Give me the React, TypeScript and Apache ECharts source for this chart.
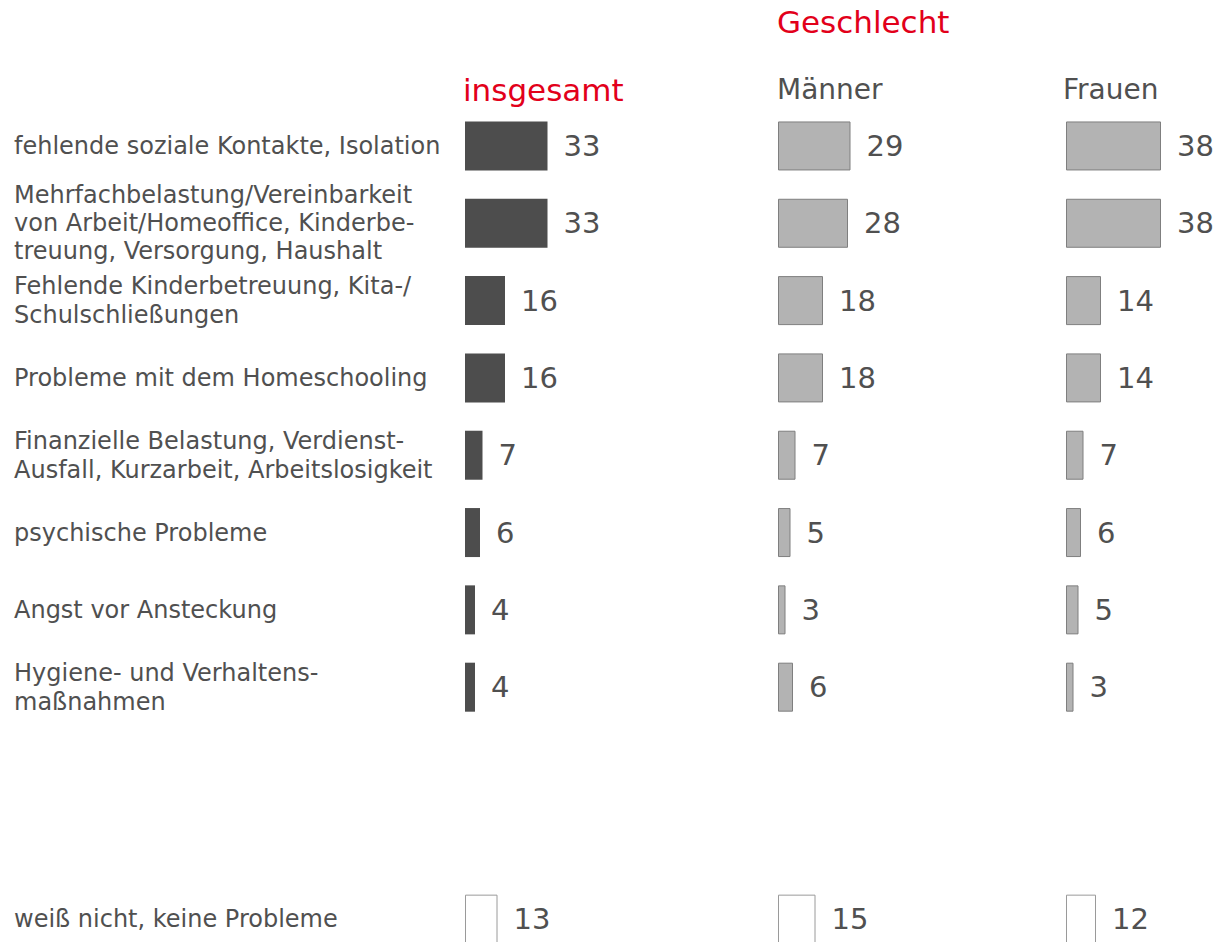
import React, { useEffect, useRef } from "react";
import * as echarts from "echarts";

const categories = [
  "fehlende soziale Kontakte, Isolation",
  "Mehrfachbelastung/Vereinbarkeit\nvon Arbeit/Homeoffice, Kinderbe-\ntreuung, Versorgung, Haushalt",
  "Fehlende Kinderbetreuung, Kita-/\nSchulschließungen",
  "Probleme mit dem Homeschooling",
  "Finanzielle Belastung, Verdienst-\nAusfall, Kurzarbeit, Arbeitslosigkeit",
  "psychische Probleme",
  "Angst vor Ansteckung",
  "Hygiene- und Verhaltens-\nmaßnahmen",
  "",
  " ",
  "weiß nicht, keine Probleme",
];

const insgesamt = [33, 33, 16, 16, 7, 6, 4, 4, null, null, 13];
const maenner = [29, 28, 18, 18, 7, 5, 3, 6, null, null, 15];
const frauen = [38, 38, 14, 14, 7, 6, 5, 3, null, null, 12];

const columnTitles = ["insgesamt", "Männer", "Frauen"];
const groupTitle = "Geschlecht";

const FONT = "DejaVu Sans";
const TEXT = "#505050";
const RED = "#e2001a";

export default function App() {
  const ref = useRef<HTMLDivElement>(null);

  useEffect(() => {
    document.body.style.margin = "0";
    if (!ref.current) return;
    const chart = echarts.init(ref.current, undefined, { renderer: "svg" });

    const gridLefts = [465, 778, 1066];
    const top = 107.3;
    const height = 850.5;
    const lastIdx = categories.length - 1;

    const makeData = (vals: (number | null)[], fill: string, border: string, bw: number) =>
      vals.map((v, i) => {
        if (v === null) return null;
        if (i === lastIdx) {
          return {
            value: v,
            itemStyle: { color: "#ffffff", borderColor: "#9a9a9a", borderWidth: 1 },
          };
        }
        return { value: v, itemStyle: { color: fill, borderColor: border, borderWidth: bw } };
      });

    const seriesVals = [insgesamt, maenner, frauen];

    const option: any = {
      animation: false,
      backgroundColor: "#ffffff",
      title: [
        {
          text: groupTitle,
          left: 777,
          top: 6,
          padding: 0,
          textStyle: { color: RED, fontSize: 31, fontWeight: "normal", fontFamily: FONT },
        },
        {
          text: columnTitles[0],
          left: 463,
          top: 74,
          padding: 0,
          textStyle: { color: RED, fontSize: 31, fontWeight: "normal", fontFamily: FONT },
        },
        {
          text: columnTitles[1],
          left: 777,
          top: 75,
          padding: 0,
          textStyle: { color: TEXT, fontSize: 28, fontWeight: "normal", fontFamily: FONT },
        },
        {
          text: columnTitles[2],
          left: 1063,
          top: 75,
          padding: 0,
          textStyle: { color: TEXT, fontSize: 28, fontWeight: "normal", fontFamily: FONT },
        },
      ],
      grid: gridLefts.map((l) => ({ left: l, top, width: 100, height, containLabel: false })),
      xAxis: gridLefts.map((_, i) => ({
        type: "value",
        gridIndex: i,
        min: 0,
        max: 40,
        show: false,
      })),
      yAxis: gridLefts.map((_, i) => ({
        type: "category",
        gridIndex: i,
        inverse: true,
        data: categories,
        axisLine: { show: false },
        axisTick: { show: false },
        splitLine: { show: false },
        axisLabel:
          i === 0
            ? {
                show: true,
                interval: 0,
                align: "left",
                margin: 451,
                color: TEXT,
                fontSize: 24,
                lineHeight: 29,
                fontFamily: FONT,
                formatter: (v: string) => (v.split("\n").length > 2 ? `{t|${v}}` : v),
                rich: {
                  t: { fontSize: 24, lineHeight: 28, color: TEXT, fontFamily: FONT },
                },
              }
            : { show: false },
      })),
      series: seriesVals.map((vals, i) => ({
        type: "bar",
        xAxisIndex: i,
        yAxisIndex: i,
        barWidth: 49,
        data:
          i === 0
            ? makeData(vals, "#4d4d4d", "#4d4d4d", 0)
            : makeData(vals, "#b3b3b3", "#7f7f7f", 1),
        label: {
          show: true,
          position: "right",
          distance: 16,
          color: TEXT,
          fontSize: 29,
          fontFamily: FONT,
        },
      })),
    };

    chart.setOption(option);
    return () => chart.dispose();
  }, []);

  return (
    <div style={{ width: 1216, height: 942, overflow: "hidden", position: "relative" }}>
      <div ref={ref} style={{ width: 1216, height: 980 }} />
    </div>
  );
}
